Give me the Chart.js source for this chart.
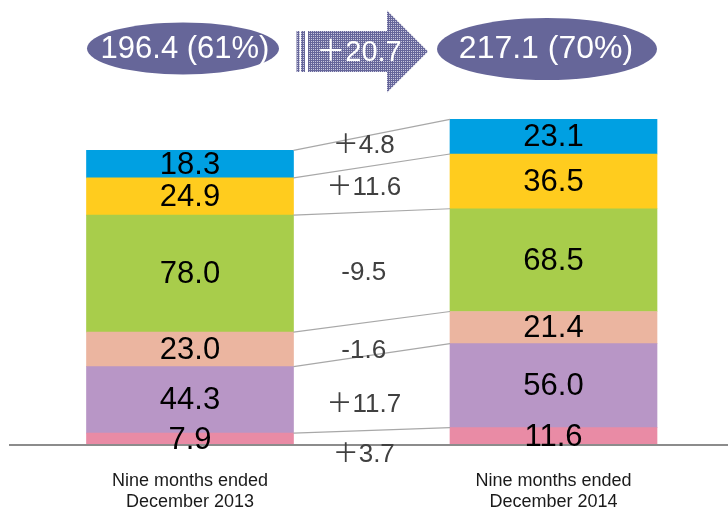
<!DOCTYPE html>
<html>
<head>
<meta charset="utf-8">
<script src="https://cdn.jsdelivr.net/npm/chart.js@4.4.1/dist/chart.umd.min.js"></script>
<style>
  html, body { margin: 0; padding: 0; background: #fff; }
</style>
</head>
<body>
<canvas id="chart" width="728" height="509"></canvas>
<script>
// Data ---

const categories = [
  ["Nine months ended", "December 2013"],
  ["Nine months ended", "December 2014"],
];

// stack order, bottom to top
const values2013 = [7.9, 44.3, 23.0, 78.0, 24.9, 18.3];
const values2014 = [11.6, 56.0, 21.4, 68.5, 36.5, 23.1];
const shares = ["61%", "70%"];

// Styles ---

const segmentColors = ["#e98ba5", "#b896c6", "#ebb5a0", "#a8cd4b", "#ffcc1e", "#00a0e2"];
const FONT = '"Liberation Sans", "Noto Sans CJK JP", Arial, sans-serif';

// nudges (px) for the change labels between the bars
const deltaNudge = [17, 12, 12, 6, -1, -5];

const sum = (arr) => arr.reduce((a, b) => a + b, 0);

const fmtDelta = (d) => (d >= 0 ? "\uFF0B" : "-") + Math.abs(d).toFixed(1);

const datasets = values2013.map((v, i) => ({
  label: "s" + i,
  data: [v, values2014[i]],
  backgroundColor: segmentColors[i],
  borderWidth: 0,
  barThickness: 207,
  clip: false,
}));

function makePattern(ctx) {
  const c = document.createElement("canvas");
  c.width = 4;
  c.height = 4;
  const p = c.getContext("2d");
  p.fillStyle = "#66669a";
  p.fillRect(0, 0, 4, 4);
  p.fillStyle = "#c8c8de";
  [[1, 1], [3, 3], [1, 3], [3, 1]].forEach(([x, y]) => p.fillRect(x, y, 1, 1));
  return ctx.createPattern(c, "repeat");
}

// Header (totals ellipses + arrow) ---

const headerPlugin = {
  id: "header",
  afterDraw(chart) {
    const ctx = chart.ctx;
    const t13 = sum(values2013);
    const t14 = sum(values2014);

    ctx.save();
    ctx.fillStyle = "#666699";
    ctx.beginPath();
    ctx.ellipse(183, 48.5, 96, 26, 0, 0, Math.PI * 2);
    ctx.fill();
    ctx.beginPath();
    ctx.ellipse(547, 49, 110, 31, 0, 0, Math.PI * 2);
    ctx.fill();

    // arrow
    ctx.fillStyle = makePattern(ctx);
    ctx.fillRect(296.5, 31, 3, 41);
    ctx.fillRect(301, 31, 4, 41);
    ctx.beginPath();
    ctx.moveTo(308, 31);
    ctx.lineTo(387, 31);
    ctx.lineTo(387, 10.5);
    ctx.lineTo(428, 51.5);
    ctx.lineTo(387, 92.5);
    ctx.lineTo(387, 72);
    ctx.lineTo(308, 72);
    ctx.closePath();
    ctx.fill();

    ctx.fillStyle = "#ffffff";
    ctx.textAlign = "center";
    ctx.textBaseline = "middle";
    ctx.font = "31px " + FONT;
    ctx.fillText(t13.toFixed(1) + " (" + shares[0] + ")", 185, 49);
    ctx.font = "32px " + FONT;
    ctx.fillText(t14.toFixed(1) + " (" + shares[1] + ")", 546, 49);
    ctx.font = "29px " + FONT;
    ctx.fillText(fmtDelta(t14 - t13), 359, 53);
    ctx.restore();
  },
};

// Connectors, segment labels, baseline ---

const annotatePlugin = {
  id: "annotate",
  afterDatasetsDraw(chart) {
    const ctx = chart.ctx;
    const y0 = chart.scales.y.getPixelForValue(0);

    ctx.save();

    // baseline
    ctx.strokeStyle = "#8c8c8c";
    ctx.lineWidth = 2;
    ctx.beginPath();
    ctx.moveTo(9, y0);
    ctx.lineTo(728, y0);
    ctx.stroke();

    ctx.textAlign = "center";
    ctx.textBaseline = "middle";

    chart.data.datasets.forEach((ds, i) => {
      const meta = chart.getDatasetMeta(i);
      const a = meta.data[0];
      const b = meta.data[1];
      const ax = a.x + a.width / 2;
      const bx = b.x - b.width / 2;

      // connector from top of left segment to top of right segment
      ctx.strokeStyle = "#a8a8a8";
      ctx.lineWidth = 1.2;
      ctx.beginPath();
      ctx.moveTo(ax, a.y);
      ctx.lineTo(bx, b.y);
      ctx.stroke();

      // values inside bars
      ctx.fillStyle = "#000000";
      ctx.font = "31px " + FONT;
      ctx.fillText(ds.data[0].toFixed(1), a.x, (a.y + a.base) / 2 + 1);
      ctx.fillText(ds.data[1].toFixed(1), b.x, (b.y + b.base) / 2 + 1);

      // change label between the bars
      const midY = ((a.y + a.base) / 2 + (b.y + b.base) / 2) / 2 + deltaNudge[i];
      ctx.fillStyle = "#404040";
      ctx.font = "26px " + FONT;
      ctx.fillText(fmtDelta(ds.data[1] - ds.data[0]), (ax + bx) / 2 - 8, midY);
    });

    ctx.restore();
  },
};

new Chart(document.getElementById("chart"), {
  type: "bar",
  data: { labels: categories, datasets: datasets },
  options: {
    responsive: false,
    animation: false,
    layout: { padding: { left: 190, right: 174.5, top: 115, bottom: 0 } },
    plugins: { legend: { display: false }, tooltip: { enabled: false } },
    scales: {
      x: {
        stacked: true,
        offset: false,
        grid: { display: false, drawTicks: false },
        border: { display: false },
        ticks: {
          padding: 25,
          color: "#1a1a1a",
          font: { family: FONT, size: 18, lineHeight: 1.2 },
          maxRotation: 0,
          autoSkip: false,
        },
        afterFit(scale) {
          scale.height = 64;
        },
      },
      y: {
        stacked: true,
        display: false,
        min: 0,
        max: 220,
      },
    },
  },
  plugins: [annotatePlugin, headerPlugin],
});
</script>
</body>
</html>
